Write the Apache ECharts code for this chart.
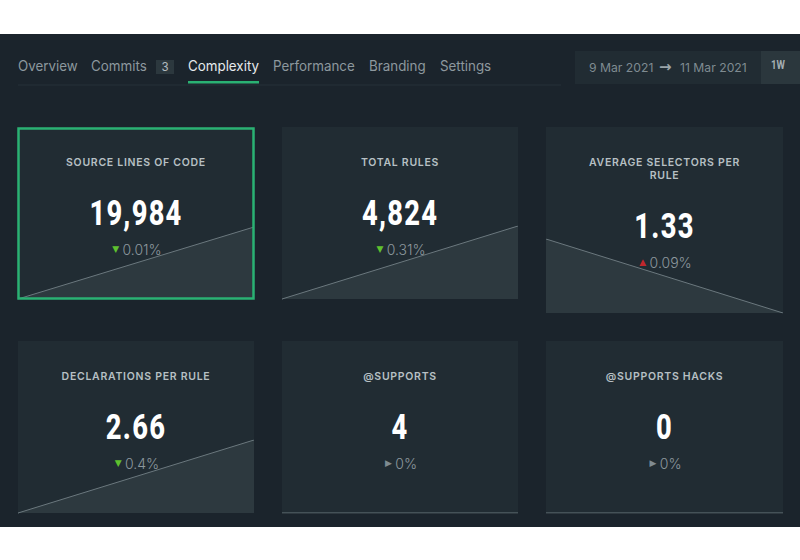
<!DOCTYPE html>
<html>
<head>
<meta charset="utf-8">
<style>
  html, body { margin: 0; padding: 0; background: #fff; }
  #chart { width: 800px; height: 560px; }
  /* zrender has no letter spacing option, the svg text picks it up from css */
  #chart svg text[style*="600"] { letter-spacing: 0.72px; }
  #chart svg text[style*="800"] { letter-spacing: 1.6px; }
</style>
<script src="https://cdn.jsdelivr.net/npm/echarts@6/dist/echarts.min.js"></script>
</head>
<body>
<div id="chart"></div>
<script>
const tabs = ["Overview", "Commits", "Complexity", "Performance", "Branding", "Settings"];
const commitCount = "3";
const dates = ["9 Mar 2021", "11 Mar 2021"];
const rangeLabel = "1W";

const titles = ["SOURCE LINES OF CODE", "TOTAL RULES", "AVERAGE SELECTORS PER\nRULE", "DECLARATIONS PER RULE", "@SUPPORTS", "@SUPPORTS HACKS"];
const totals = ["19,984", "4,824", "1.33", "2.66", "4", "0"];
const changes = ["0.01%", "0.31%", "0.09%", "0.4%", "0%", "0%"];
const directions = ["down", "down", "up", "down", "flat", "flat"];

const sourceLines = [19982, 19984];
const totalRules = [4809, 4824];
const selectorsPerRule = [1.3312, 1.33];
const declarationsPerRule = [2.65, 2.66];
const supports = [4, 4];
const supportsHacks = [0, 0];
const seriesValues = [sourceLines, totalRules, selectorsPerRule, declarationsPerRule, supports, supportsHacks];

const cards = [
  { x: 18, y: 127, w: 236, h: 172, top: 227 },
  { x: 282, y: 127, w: 236, h: 172, top: 226 },
  { x: 546, y: 127, w: 237, h: 186, top: 239 },
  { x: 18, y: 341, w: 236, h: 172, top: 440 },
  { x: 282, y: 341, w: 236, h: 172, top: 440 },
  { x: 546, y: 341, w: 237, h: 172, top: 440 },
];
const leftLine = [false, true, false, true, false, false];

const arrows = { down: "▼", up: "▲", flat: "▶" };
const fontBody = "Inter";

const grids = [], xAxes = [], yAxes = [], series = [], graphics = [];

function label(text, x, y, size, color, extra, scaleX) {
  graphics.push({
    type: "text", x, y, z: 20, silent: true, scaleX: scaleX || 1,
    style: Object.assign({ text, fill: color, font: size + "px " + fontBody, textAlign: "left", textVerticalAlign: "middle" }, extra),
  });
}

// page panel
graphics.push({ type: "rect", z: 0, shape: { x: 0, y: 34, width: 800, height: 493 }, style: { fill: "#1b242c" } });

// tabs
const tabX = [18, 91, 188, 273, 369, 440];
tabs.forEach((t, i) => label(t, tabX[i], 65.5, 14, i === 2 ? "#e6eaec" : "#8d989e", null, 0.955));
graphics.push({ type: "rect", z: 1, shape: { x: 18, y: 84.5, width: 543, height: 1 }, style: { fill: "#263138" } });
graphics.push({ type: "rect", z: 2, shape: { x: 188, y: 81, width: 71, height: 2.5 }, style: { fill: "#2ab173" } });
graphics.push({ type: "rect", z: 1, shape: { x: 156, y: 60, width: 18, height: 14 }, style: { fill: "#2c383e" } });
label(commitCount, 165, 67, 10, "#b4bdc1", { textAlign: "center", fontWeight: 500 });

// date range
graphics.push({ type: "rect", z: 1, shape: { x: 575, y: 51, width: 186, height: 33 }, style: { fill: "#212c33" } });
graphics.push({ type: "rect", z: 1, shape: { x: 761, y: 51, width: 39, height: 33 }, style: { fill: "#2b373d" } });
label(dates[0], 589, 67, 12.2, "#7f8b91");
label("→", 659, 67, 15, "#9aa4a9", { font: "bold 15px 'DejaVu Sans'" });
label(dates[1], 680, 67, 12.2, "#7f8b91");
label(rangeLabel, 778, 65, 12, "#a4aeb3", { textAlign: "center", font: "bold 12px Roboto" }, 0.8);

titles.forEach((title, i) => {
  const c = cards[i];
  const cx = c.x + c.w / 2;
  const twoLine = title.includes("\n");
  const shift = twoLine ? 13 : 0;

  graphics.push({ type: "rect", z: 1, shape: { x: c.x, y: c.y, width: c.w, height: c.h }, style: { fill: "#212c33" } });

  graphics.push({
    type: "text", x: cx, y: c.y + 35 + (twoLine ? 6.5 : 0), z: 20, silent: true,
    style: { text: title, fill: "#b7c0c4", font: "600 10.5px " + fontBody, textAlign: "center", textVerticalAlign: "middle", lineHeight: 13 },
  });
  graphics.push({
    type: "text", x: cx, y: c.y + 86 + shift, z: 20, silent: true, scaleX: 0.78,
    style: { text: totals[i], fill: "#ffffff", font: "800 35px Roboto", textAlign: "center", textVerticalAlign: "middle" },
  });

  const arrowColor = directions[i] === "down" ? "#5fc12f" : directions[i] === "up" ? "#c0272d" : "#7f8b91";
  graphics.push({
    type: "text", x: cx + 1, y: c.y + 122 + shift, z: 20, silent: true,
    style: {
      text: "{a|" + arrows[directions[i]] + "} {b|" + changes[i] + "}",
      textAlign: "center", textVerticalAlign: "middle",
      rich: {
        a: { fill: arrowColor, fontSize: 9, fontFamily: "DejaVu Sans" },
        b: { fill: "#8d989e", fontSize: 14, fontWeight: 300, fontFamily: fontBody },
      },
    },
  });

  grids.push({ left: c.x, top: c.top, width: c.w, height: c.y + c.h - c.top });
  xAxes.push({
    gridIndex: i, type: "category", data: dates, boundaryGap: false,
    axisLine: { show: false }, axisTick: { show: false }, axisLabel: { show: false }, splitLine: { show: false },
  });
  yAxes.push({
    gridIndex: i, type: "value",
    min: (r) => r.min,
    max: (r) => (r.max === r.min ? r.max + 1 : r.max),
    axisLine: { show: leftLine[i], lineStyle: { color: "#5f6c72", width: 1 } },
    axisTick: { show: false }, axisLabel: { show: false }, splitLine: { show: false },
  });
  series.push({
    type: "line", xAxisIndex: i, yAxisIndex: i, data: seriesValues[i], symbol: "none", z: 5, silent: true,
    lineStyle: { color: "#6b787e", width: 1 },
    areaStyle: { color: "#2d393f", opacity: 1 },
  });
});

// selected card outline
graphics.push({ type: "rect", z: 15, shape: { x: 18.5, y: 128.5, width: 235, height: 170 }, style: { fill: "none", stroke: "#2ab173", lineWidth: 2.5 } });

const chart = echarts.init(document.getElementById("chart"), null, { renderer: "svg" });
chart.setOption({
  animation: false,
  backgroundColor: "#fff",
  grid: grids,
  xAxis: xAxes,
  yAxis: yAxes,
  series,
  graphic: graphics,
});
</script>
</body>
</html>
